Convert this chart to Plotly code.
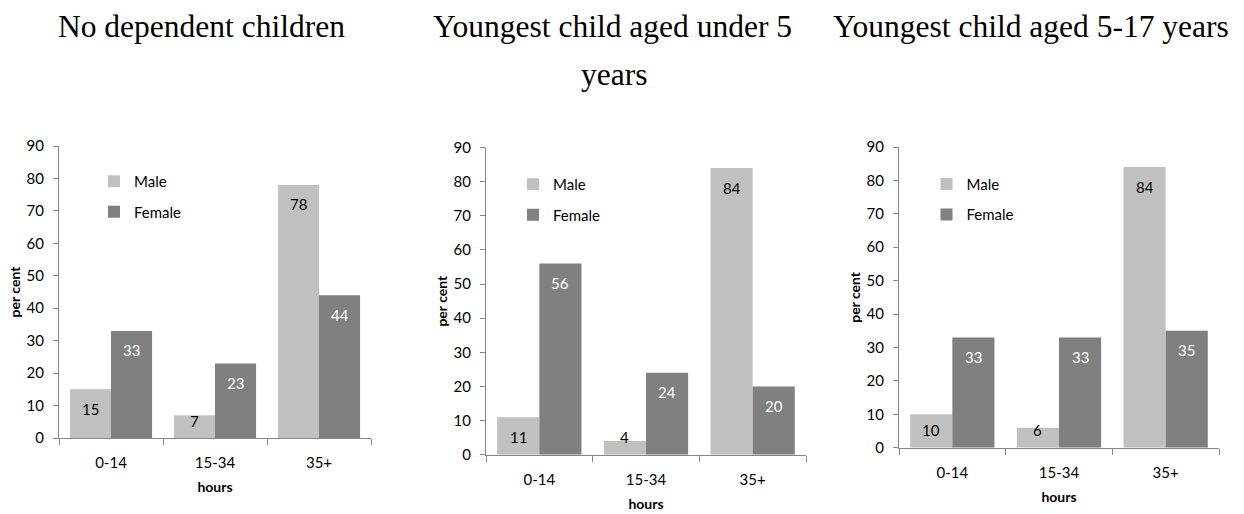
import plotly.graph_objects as go

# ---- data ----
categories = ["0-14", "15-34", "35+"]
panel_titles = ["No dependent children", "Youngest child aged under 5", "Youngest child aged 5-17 years"]
title2_second_line = "years"
series_names = ["Male", "Female"]

male_no_children = [15, 7, 78]
female_no_children = [33, 23, 44]
male_under5 = [11, 4, 84]
female_under5 = [56, 24, 20]
male_5_17 = [10, 6, 84]
female_5_17 = [33, 33, 35]

x_title = "hours"
y_title = "per cent"
y_ticks = [0, 10, 20, 30, 40, 50, 60, 70, 80, 90]

# ---- style ----
W, H = 1244, 514
FONT = "Lato"
SERIF = "Liberation Serif"
MALE_COLOR = "#C0C0C0"
FEMALE_COLOR = "#808080"
AXIS_COLOR = "#868686"
BARGAP = 0.21
Y_MAX = 90

panels = [
    (male_no_children, female_no_children),
    (male_under5, female_under5),
    (male_5_17, female_5_17),
]
# plot area pixel boxes: (left, right, top, bottom)
boxes = [(59, 371, 146, 438), (486, 806, 147.6, 454.7), (899, 1219, 147, 447.7)]
legend_pos = [(94, 165), (513, 168), (926.5, 167.7)]

fig = go.Figure()
for i, (m, f) in enumerate(panels):
    sfx = "" if i == 0 else str(i + 1)
    leg = "legend" if i == 0 else f"legend{i + 1}"
    for name, vals, col in ((series_names[0], m, MALE_COLOR),
                            (series_names[1], f, FEMALE_COLOR)):
        fig.add_trace(go.Bar(
            x=categories, y=vals, name=name,
            marker=dict(color=col, line=dict(width=0)),
            xaxis="x" + sfx, yaxis="y" + sfx, legend=leg,
            legendgroup=f"{name}{i}", hoverinfo="skip",
        ))

# data labels, placed "inside end" like the original spreadsheet chart
bar_offset = (1 - BARGAP) / 4
for i, (m, f) in enumerate(panels):
    sfx = "" if i == 0 else str(i + 1)
    l, r, t, b = boxes[i]
    px_per_unit = (b - t) / Y_MAX
    for vals, tcol, sign in ((m, "black", -1), (f, "white", 1)):
        for j, v in enumerate(vals):
            tall = v * px_per_unit > 37
            fig.add_annotation(
                x=j + sign * bar_offset, y=v if tall else 0,
                xref="x" + sfx, yref="y" + sfx,
                yshift=-19.5 if tall else 17.5,
                text=str(v), showarrow=False, xanchor="center", yanchor="middle",
                font=dict(family=FONT, size=15, color=tcol),
            )

layout = dict(
    width=W, height=H, margin=dict(l=0, r=0, t=0, b=0, autoexpand=False),
    paper_bgcolor="white", plot_bgcolor="white",
    barmode="group", bargap=BARGAP, bargroupgap=0,
    font=dict(family=FONT, size=15, color="black"),
    showlegend=True,
)
for i, (l, r, t, b) in enumerate(boxes):
    sfx = "" if i == 0 else str(i + 1)
    layout["xaxis" + sfx] = dict(
        domain=[l / W, r / W], anchor="y" + sfx, automargin=False,
        showline=True, linecolor=AXIS_COLOR, linewidth=1,
        ticks="outside", tickson="boundaries", ticklen=6, tickcolor=AXIS_COLOR,
        showgrid=False, tickfont=dict(family=FONT, size=15),
        ticklabelstandoff=11,
        title=dict(text=x_title, font=dict(family=FONT, size=14, weight="bold"), standoff=12),
    )
    layout["yaxis" + sfx] = dict(
        domain=[1 - b / H, 1 - t / H], anchor="x" + sfx, automargin=False,
        range=[0, Y_MAX], tickvals=y_ticks,
        showline=True, linecolor=AXIS_COLOR, linewidth=1,
        ticks="outside", ticklen=5, tickcolor=AXIS_COLOR,
        showgrid=False, zeroline=False, tickfont=dict(family=FONT, size=15),
        ticklabelstandoff=6,
        title=dict(text=y_title, font=dict(family=FONT, size=14, weight="bold"), standoff=2),
    )
    lx, ly = legend_pos[i]
    key = "legend" if i == 0 else f"legend{i + 1}"
    layout[key] = dict(
        x=lx / W, y=1 - ly / H, xanchor="left", yanchor="top",
        bgcolor="rgba(0,0,0,0)", font=dict(family=FONT, size=15),
        tracegroupgap=8, itemwidth=30, traceorder="grouped",
    )

fig.update_layout(**layout)

title_x = [202, 612, 1031]
for i, txt in enumerate(panel_titles):
    fig.add_annotation(text=txt, x=title_x[i] / W, y=1 - 26 / H, xref="paper", yref="paper",
                       xanchor="center", yanchor="middle", showarrow=False,
                       font=dict(family=SERIF, size=31.5, color="black"))
fig.add_annotation(text=title2_second_line, x=614 / W, y=1 - 74.5 / H, xref="paper", yref="paper",
                   xanchor="center", yanchor="middle", showarrow=False,
                   font=dict(family=SERIF, size=31.5, color="black"))

fig.write_html("out.html", config={"displayModeBar": False},
               post_script="document.body.style.margin='0';")
